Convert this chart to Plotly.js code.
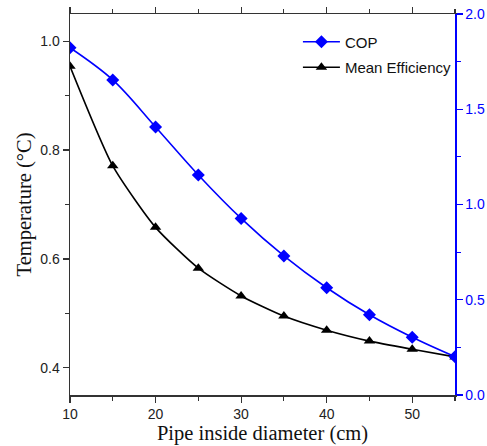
<!DOCTYPE html>
<html>
<head>
<meta charset="utf-8">
<script src="https://cdn.plot.ly/plotly-3.0.1.min.js"></script>
<style>html,body{margin:0;padding:0;background:#fff;}#chart{width:487px;height:446px;}</style>
</head>
<body>
<div id="chart"></div>
<script>
const diameters = [10, 15, 20, 25, 30, 35, 40, 45, 50, 55];
const cop = [1.823, 1.654, 1.407, 1.155, 0.927, 0.730, 0.563, 0.421, 0.303, 0.201];
const meanEfficiency = [0.954, 0.771, 0.658, 0.583, 0.532, 0.495, 0.469, 0.449, 0.434, 0.420];
const leftTicks = [0.4, 0.6, 0.8, 1.0];
const rightTicks = [0.0, 0.5, 1.0, 1.5, 2.0];
const xTicks = [10, 20, 30, 40, 50];

const sansFamily = 'Liberation Sans Narrow, Arial Narrow, Liberation Sans, Arial';
const tickFont = {family: sansFamily, size: 14, color: '#222'};
const titleFont = {family: 'Liberation Serif, Times New Roman, serif', size: 20.5, color: '#111'};

const traces = [
  {
    x: diameters, y: cop, name: 'COP', yaxis: 'y2', type: 'scatter', mode: 'lines+markers',
    legendgroup: 'a',
    line: {color: '#0000ff', width: 1.6, shape: 'spline'},
    marker: {symbol: 'diamond', size: 10, color: '#0000ff'}
  },
  {
    x: diameters, y: meanEfficiency, name: 'Mean Efficiency', yaxis: 'y', type: 'scatter', mode: 'lines+markers',
    legendgroup: 'b',
    line: {color: '#000000', width: 1.6, shape: 'spline', smoothing: 0.6},
    marker: {symbol: 'triangle-up', size: 10, color: '#000000'}
  }
];

const layout = {
  width: 487, height: 446,
  margin: {l: 70, r: 32, t: 14, b: 51},
  paper_bgcolor: '#fff', plot_bgcolor: '#fff',
  showlegend: true,
  legend: {
    x: 0.592, y: 0.97, xanchor: 'left', yanchor: 'top',
    font: {family: sansFamily, size: 15, color: '#111'},
    bgcolor: 'rgba(0,0,0,0)', tracegroupgap: 3, itemwidth: 37
  },
  xaxis: {
    range: [10, 55], tickvals: xTicks, ticktext: xTicks.map(String),
    showgrid: false, zeroline: false,
    showline: true, linecolor: '#333', linewidth: 1.5, mirror: 'ticks',
    ticks: 'outside', ticklen: 6, tickwidth: 1.2, tickcolor: '#333',
    minor: {dtick: 5, tick0: 10, ticks: 'outside', ticklen: 4, tickwidth: 1.2, tickcolor: '#333', showgrid: false},
    tickfont: tickFont,
    title: {text: 'Pipe inside diameter (cm)', font: titleFont, standoff: 3}
  },
  yaxis: {
    range: [0.35, 1.05], tickvals: leftTicks, ticktext: leftTicks.map(v => v.toFixed(1)),
    showgrid: false, zeroline: false,
    showline: true, linecolor: '#333', linewidth: 1.5,
    ticks: 'outside', ticklen: 6, tickwidth: 1.2, tickcolor: '#333',
    minor: {dtick: 0.1, tick0: 0.3, ticks: 'outside', ticklen: 4, tickwidth: 1.2, tickcolor: '#333', showgrid: false},
    tickfont: tickFont,
    title: {text: 'Temperature (°C)', font: titleFont, standoff: 3}
  },
  yaxis2: {
    overlaying: 'y', side: 'right', range: [0, 2],
    tickvals: rightTicks, ticktext: rightTicks.map(v => v.toFixed(1)),
    showgrid: false, zeroline: false,
    showline: true, linecolor: '#0000ff', linewidth: 1.5,
    ticks: 'outside', ticklen: 6, tickwidth: 1.2, tickcolor: '#0000ff',
    minor: {dtick: 0.25, tick0: 0, ticks: 'outside', ticklen: 4, tickwidth: 1.2, tickcolor: '#0000ff', showgrid: false},
    tickfont: {family: sansFamily, size: 14, color: '#0000ff'}
  }
};

Plotly.newPlot('chart', traces, layout, {displayModeBar: false, staticPlot: true});
</script>
</body>
</html>
